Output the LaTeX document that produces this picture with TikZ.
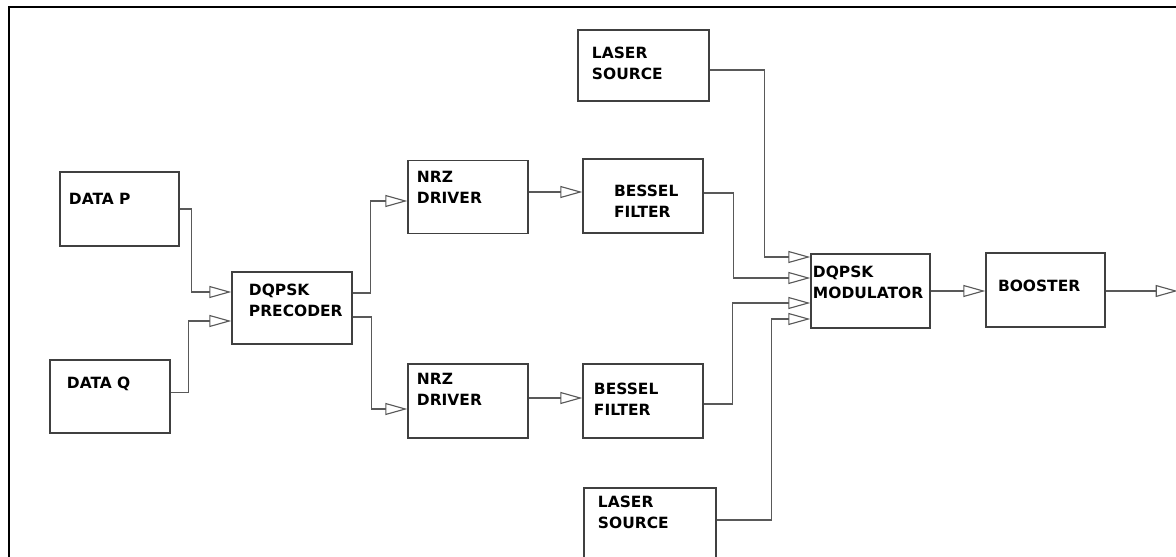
\documentclass[tikz,border=0pt]{standalone}
\usepackage{fontspec}
\setmainfont{DejaVu Sans}
\usetikzlibrary{arrows.meta, calc}
\hyphenpenalty=10000

\begin{document}
\begin{tikzpicture}[
  x=0.025cm, y=-0.025cm,
  blocco/.style={draw=black!75, line width=0.9pt, fill=white, align=left,
                 inner sep=0pt, text height=8pt,
                 font=\fontsize{11}{15}\selectfont\bfseries,
                 minimum width=3cm, minimum height=1.85cm},
  collegamento/.style={draw=black!65, line width=0.8pt},
  freccia/.style={collegamento, -{Triangle[open, length=0.55cm, width=0.3cm]}},
  cornice/.style={draw=black, line width=1.9pt}
]

% Area fissata sulle dimensioni del riferimento: la cornice esce a destra
% e in basso, quindi la si taglia.
\useasboundingbox (0,0) rectangle (1176,557);
\clip (0,0) rectangle (1176,557);

% ---- cornice esterna ------------------------------------------------
\draw[cornice] (9,7) rectangle (1200,590);

% ---- blocchi: dati e precodifica -------------------------------------
\node[blocco, minimum width=2.975cm, text width=2.525cm, text depth=14.2pt]
  (datap) at (119.5,209) {DATA P};
\node[blocco, minimum height=1.825cm, text width=2.15cm, text depth=19.1pt]
  (dataq) at (110,396.5) {DATA Q};
\node[blocco, minimum height=1.8cm, text width=2.15cm, text depth=26.4pt]
  (precoder) at (292,308) {DQPSK\\PRECODER};

% ---- blocchi: driver e filtri ----------------------------------------
\node[blocco, minimum height=1.825cm, text width=2.55cm, text depth=28.4pt]
  (nrzsu) at (468,197) {NRZ\\DRIVER};
\node[blocco, text width=2.55cm, text depth=31.4pt]
  (nrzgiu) at (468,401) {NRZ\\DRIVER};
\node[blocco, text width=1.45cm, text depth=7.2pt]
  (besselsu) at (643,196) {BESSEL\\FILTER};
\node[blocco, text width=2.45cm, text depth=17.8pt]
  (besselgiu) at (643,401) {BESSEL\\FILTER};

% ---- blocchi: sorgenti laser, modulatore, amplificatore --------------
\node[blocco, minimum width=3.275cm, minimum height=1.775cm,
      text width=2.575cm, text depth=17.8pt]
  (lasersu) at (643.5,65.5) {LASER\\SOURCE};
\node[blocco, minimum width=3.3cm, minimum height=1.825cm,
      text width=2.6cm, text depth=32pt]
  (lasergiu) at (650,524.5) {LASER\\SOURCE};
\node[blocco, minimum width=2.975cm, text width=2.875cm, text depth=27.8pt]
  (modulatore) at (870.5,291) {DQPSK\\MODULATOR};
\node[blocco, minimum width=2.975cm, text width=2.375cm, text depth=6.4pt]
  (booster) at (1045.5,290) {BOOSTER};

\coordinate (uscita) at ($(booster.east)+(72,0)$);

% ---- collegamenti ----------------------------------------------------
\draw[freccia] (datap.east) -- ++(12,0) |- ($(precoder.west)+(0,-16)$);
\draw[freccia] ($(dataq.east)+(0,-4)$) -- ++(18,0) |- ($(precoder.west)+(0,13)$);
\draw[freccia] ($(precoder.east)+(0,-15)$) -- ++(18,0) |- ($(nrzsu.west)+(0,4)$);
\draw[freccia] ($(precoder.east)+(0,9)$) -- ++(19,0) |- ($(nrzgiu.west)+(0,8)$);

\draw[freccia] ($(nrzsu.east)+(0,-5)$) -- ($(besselsu.west)+(0,-4)$);
\draw[freccia] ($(nrzgiu.east)+(0,-3)$) -- ($(besselgiu.west)+(0,-3)$);

% filtri e laser verso il modulatore (quattro ingressi)
\draw[freccia] ($(lasersu.east)+(0,4.5)$) -- ++(55,0) |- ($(modulatore.west)+(0,-34)$);
\draw[freccia] ($(besselsu.east)+(0,-3)$) -- ++(30,0) |- ($(modulatore.west)+(0,-13)$);
\draw[freccia] ($(besselgiu.east)+(0,3)$) -- ++(29,0) |- ($(modulatore.west)+(0,12)$);
\draw[freccia] ($(lasergiu.east)+(0,-4.5)$) -- ++(55,0) |- ($(modulatore.west)+(0,28)$);

\draw[freccia] (modulatore.east) -- (modulatore.east -| booster.west);
\draw[freccia] ($(booster.east)+(0,1)$) -- ($(uscita)+(0,1)$);

\end{tikzpicture}
\end{document}
